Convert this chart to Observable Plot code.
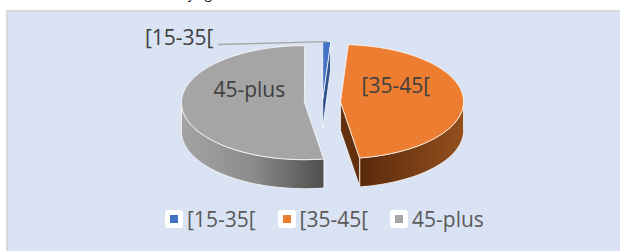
<!DOCTYPE html>
<html><head><meta charset="utf-8">
<script src="https://cdn.jsdelivr.net/npm/d3@7"></script>
<script src="https://cdn.jsdelivr.net/npm/@observablehq/plot@0.6"></script>
<style>
html,body{margin:0;padding:0;background:#fff;}
#wrap{position:relative;width:620px;height:251px;overflow:hidden;font-family:"Open Sans",sans-serif;}
#title{position:absolute;left:22px;top:-15px;font-size:13px;color:#000;white-space:nowrap;}
#panel{position:absolute;left:6px;top:10px;width:640px;height:260px;background:#dae3f3;border-left:2px solid #d9d9d9;border-top:2px solid #d9d9d9;}
#chart{position:absolute;left:0;top:0;}
#legend{position:absolute;left:165px;top:207px;display:flex;align-items:center;font-size:21px;line-height:24px;color:#595959;white-space:nowrap;}
.item{display:flex;align-items:center;margin-right:22px;}
.sw{width:18px;height:18px;background:#fff;border-radius:3px;display:flex;align-items:center;justify-content:center;margin-right:4px;}
.sw i{display:block;width:8px;height:8px;}
</style></head><body>
<div id="wrap"><div id="title">Distribution of customers by age</div><div id="panel"></div><div id="chart"></div><div id="legend"></div></div>
<script>
// ---- data ----
const categories = ["[15-35[", "[35-45[", "45-plus"];
const values = [1, 46.5, 52.5];
const topColors = ["#4472c4", "#ed7d31", "#a5a5a5"];

// ---- styling / layout ----
const sideFills = ["#2f528f", "url(#wallOrange)", "url(#wallGray)"];
const cutFills = ["#2f528f", "#63310f", "#4f4f4f"];
const explode = [0.06, 0.147, 0.147];
const W = 620, H = 251, RX = 123, RY = 57, CX = 322, CY = 101.5;
const DEPTH = 29 / RY;
const step = Math.PI / 180;

const arcs = d3.pie().sort(null).value(d => d)(values);

function arcPts(cx, cy, a0, a1, dz) {
  const n = Math.max(2, Math.ceil((a1 - a0) / step) + 1);
  return d3.range(n).map(k => {
    const a = a0 + (a1 - a0) * k / (n - 1);
    return {x: cx + Math.sin(a), y: cy + Math.cos(a) - dz};
  });
}
function cutFace(cx, cy, a) {
  const ex = cx + Math.sin(a), ey = cy + Math.cos(a);
  return [{x: cx, y: cy}, {x: ex, y: ey}, {x: ex, y: ey - DEPTH}, {x: cx, y: cy - DEPTH}];
}

const back = [], tops = [], labels = [];
let outside = null;
arcs.forEach((arc, i) => {
  const a0 = arc.startAngle, a1 = arc.endAngle, m = (a0 + a1) / 2;
  const cx = explode[i] * Math.sin(m), cy = explode[i] * Math.cos(m);
  if (Math.sin(a0) < -1e-9) back.push({pts: cutFace(cx, cy, a0), fill: cutFills[i]});
  if (Math.sin(a1) > 1e-9) back.push({pts: cutFace(cx, cy, a1), fill: cutFills[i]});
  const t0 = Math.max(a0, Math.PI / 2), t1 = Math.min(a1, 3 * Math.PI / 2);
  if (t1 > t0) {
    const topArc = arcPts(cx, cy, t0, t1, 0);
    const botArc = arcPts(cx, cy, t0, t1, DEPTH).reverse();
    back.push({pts: topArc.concat(botArc), fill: sideFills[i]});
  }
  tops.push({pts: [{x: cx, y: cy}].concat(arcPts(cx, cy, a0, a1, 0)), fill: topColors[i]});
  if (arc.value / d3.sum(values) >= 0.05) {
    labels.push({x: cx + 0.45 * Math.sin(m), y: cy + 0.45 * Math.cos(m), text: categories[i]});
  } else {
    outside = {text: categories[i], tip: {x: cx + Math.sin(m), y: cy + Math.cos(m)}};
  }
});

const polyMark = p => Plot.line(p.pts, {x: "x", y: "y", curve: "linear-closed", fill: p.fill,
  stroke: "#ffffff", strokeWidth: 0.9, strokeOpacity: 0.85});

const marks = [...back.map(polyMark), ...tops.map(polyMark),
  Plot.text(labels, {x: "x", y: "y", text: "text", fontSize: 21, fontFamily: "Open Sans",
    fill: "#404040", dy: -14})];

if (outside) {
  const anchor = {x: -0.846, y: 1.009};
  marks.push(Plot.line([anchor, outside.tip], {x: "x", y: "y", stroke: "#a6a6a6", strokeWidth: 1.4}));
  marks.push(Plot.text([anchor], {x: "x", y: "y", text: () => outside.text, fontSize: 21,
    fontFamily: "Open Sans", fill: "#404040", textAnchor: "end", dx: -5, dy: -6}));
}

const svg = Plot.plot({
  width: W, height: H, margin: 0,
  x: {domain: [-CX / RX, (W - CX) / RX], range: [0, W], axis: null},
  y: {domain: [-(H - CY) / RY, CY / RY], range: [H, 0], axis: null},
  style: {background: "transparent", overflow: "visible"},
  marks
});
d3.select(svg).insert("defs", ":first-child").html(`
  <linearGradient id="wallGray" x1="0" x2="1" y1="0" y2="0">
    <stop offset="0" stop-color="#a3a3a3"/><stop offset="0.5" stop-color="#8c8c8c"/><stop offset="1" stop-color="#4e4e4e"/>
  </linearGradient>
  <linearGradient id="wallOrange" x1="0" x2="1" y1="0" y2="0">
    <stop offset="0" stop-color="#5a2a0c"/><stop offset="1" stop-color="#93501d"/>
  </linearGradient>`);
document.getElementById("chart").appendChild(svg);

const lg = d3.select("#legend");
categories.forEach((c, i) => {
  const it = lg.append("div").attr("class", "item");
  it.append("span").attr("class", "sw").append("i").style("background", topColors[i]);
  it.append("span").text(c);
});
</script>
</body></html>
